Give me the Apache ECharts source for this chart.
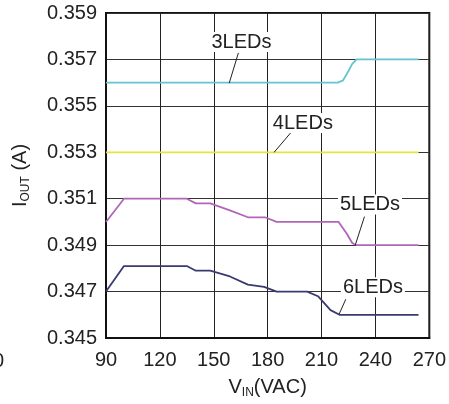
<!DOCTYPE html>
<html><head><meta charset="utf-8">
<script src="https://cdn.jsdelivr.net/npm/echarts@6/dist/echarts.min.js"></script>
<style>html,body{margin:0;padding:0;background:#fff}#c{width:449px;height:404px}</style>
</head><body><div id="c"></div>
<script>
// x: input voltage (VAC), y: output current (A)
const xTickLabels = ['90','120','150','180','210','240','270'];
const yTickLabels = ['0.345','0.347','0.349','0.351','0.353','0.355','0.357','0.359'];
const seriesNames = ['3LEDs','4LEDs','5LEDs','6LEDs'];
const led3 = [[90,0.356],[219,0.356],[222,0.3561],[225,0.3565],[227,0.3568],[229.5,0.357],[264,0.357]];
const led4 = [[90,0.353],[264,0.353]];
const led5 = [[90,0.350],[100,0.351],[135,0.351],[140,0.3508],[148,0.3508],[159,0.3505],[169,0.3502],[178.5,0.3502],[185,0.350],[219.5,0.350],[224,0.3495],[227,0.3491],[229,0.349],[264,0.349]];
const led6 = [[90,0.347],[100,0.3481],[135,0.3481],[140,0.3479],[148,0.3479],[159,0.34765],[169,0.3473],[178,0.3472],[185,0.347],[202,0.347],[208,0.3468],[215,0.3462],[220,0.346],[264,0.346]];
// annotation anchors in data coordinates: text centre, leader start, leader end
const noteText = [[165.4,0.35775],[199.6,0.35426],[236.97,0.35075],[238.6,0.34719]];
const noteFrom = [[163.7,0.35728],[194.6,0.35400],[233.9,0.35023],[223.5,0.34667]];
const noteTo   = [[158.6,0.35598],[183.6,0.35300],[228.6,0.34896],[219.8,0.34603]];

const colors = ['#62c5cf','#e6e33c','#b066b9','#393b70'];
const FONT = '"Liberation Sans", Arial, sans-serif';
const chart = echarts.init(document.getElementById('c'), null, {renderer:'canvas'});
const dataSets = [led3, led4, led5, led6];
const xMin = +xTickLabels[0], xMax = +xTickLabels[xTickLabels.length-1];
const yMin = +yTickLabels[0], yMax = +yTickLabels[yTickLabels.length-1];

chart.setOption({
  animation:false,
  backgroundColor:'#fff',
  grid:{left:106,right:15,top:13,bottom:65,show:true,borderColor:'#111',borderWidth:2,backgroundColor:'transparent'},
  xAxis:{type:'value',min:xMin,max:xMax,interval:30,
    axisLine:{show:true,lineStyle:{color:'#111',width:2}},
    axisTick:{show:false},
    axisLabel:{color:'#222',fontSize:20,fontFamily:FONT,margin:12},
    splitLine:{show:true,lineStyle:{color:'#222',width:1}},
    name:'{a|V}{b|IN}{a|(VAC)}',nameLocation:'middle',nameGap:37,
    nameTextStyle:{rich:{a:{fontSize:20,fontFamily:FONT,color:'#222'},b:{fontSize:12,fontFamily:FONT,color:'#222',padding:[12,0,0,0]}}}
  },
  yAxis:{type:'value',min:yMin,max:yMax,interval:0.002,
    axisLine:{show:true,lineStyle:{color:'#111',width:2}},
    axisTick:{show:false},
    axisLabel:{color:'#222',fontSize:20,fontFamily:FONT,margin:9,formatter:v=>v.toFixed(3)},
    splitLine:{show:true,lineStyle:{color:'#333',width:1}},
    name:'{a|I}{b|OUT}{a| (A)}',nameLocation:'middle',nameGap:74,nameRotate:90,
    nameTextStyle:{rich:{a:{fontSize:20,fontFamily:FONT,color:'#222'},b:{fontSize:12,fontFamily:FONT,color:'#222',padding:[12,0,0,0]}}}
  },
  series: dataSets.map((d,i)=>({
    name:seriesNames[i],type:'line',data:d,showSymbol:false,symbol:'none',
    lineStyle:{color:colors[i],width:1.8},z:3
  }))
});

const g = [];
for (let i=0;i<seriesNames.length;i++){
  const t = chart.convertToPixel({gridIndex:0}, noteText[i]);
  const a = chart.convertToPixel({gridIndex:0}, noteFrom[i]);
  const b = chart.convertToPixel({gridIndex:0}, noteTo[i]);
  g.push({type:'line',shape:{x1:a[0],y1:a[1],x2:b[0],y2:b[1]},style:{stroke:'#222',lineWidth:1},z:10});
  g.push({type:'text',x:t[0],y:t[1],z:11,style:{text:seriesNames[i],fill:'#222',font:'20px '+FONT,align:'center',verticalAlign:'middle',backgroundColor:'#fff',padding:[0,2]}});
}
g.push({type:'text',x:4,y:361,style:{text:'0',fill:'#222',font:'20px '+FONT,align:'right',verticalAlign:'middle'}});
chart.setOption({graphic:g});
</script></body></html>
